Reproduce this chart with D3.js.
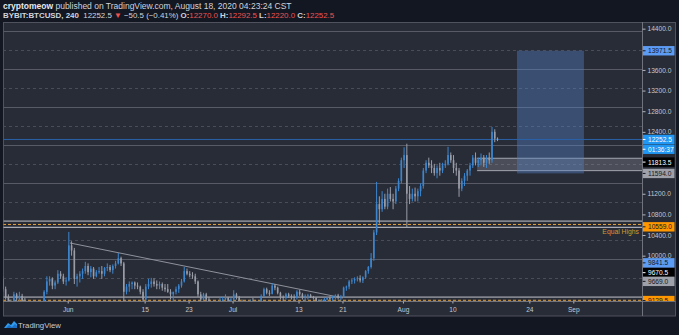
<!DOCTYPE html>
<html><head><meta charset="utf-8">
<script src="https://cdn.jsdelivr.net/npm/d3@7"></script>
<style>body{margin:0;background:#131722;}svg{display:block;font-family:"Liberation Sans",Arial,sans-serif;}</style>
</head><body><svg id="c" width="679" height="335"></svg>
<script>
// ---------- DATA ----------
const candleStartUTC = Date.UTC(2020, 4, 20, 0);   // first 12h candle
const candleStepHours = 12;
const candles = [ // [open, high, low, close]
[9550,9600,9300,9350],[9350,9400,9150,9200],
[9200,9250,8900,9000],[9000,9150,8950,9100],
[9100,9300,9050,9250],[9250,9280,9120,9170],
[9170,9300,9100,9220],[9220,9260,9050,9100],
[9100,9180,8900,8950],[8950,9000,8700,8750],
[8750,8900,8650,8850],[8850,8950,8750,8900],
[8900,9000,8800,8850],[8850,8950,8700,8800],
[8800,9000,8780,8950],[8950,9330,8900,9300],
[9300,9600,9250,9500],[9500,9600,9420,9550],
[9550,9580,9350,9420],[9420,9520,9350,9480],
[9480,9720,9450,9650],[9650,9700,9550,9600],
[9600,9650,9450,9500],[9500,9580,9420,9520],
[9520,10460,9500,10200],[10200,10280,10000,10100],
[10100,10150,9450,9550],[9550,9650,9400,9600],
[9600,9700,9480,9650],[9650,9750,9550,9700],
[9700,9880,9650,9800],[9800,9850,9620,9680],
[9680,9800,9580,9750],[9750,9780,9550,9600],
[9600,9720,9580,9680],[9680,9780,9650,9700],
[9700,9800,9550,9650],[9650,9780,9600,9760],
[9760,9850,9700,9780],[9780,9820,9680,9720],
[9720,9830,9650,9800],[9800,9900,9750,9850],
[9850,10050,9830,9950],[9950,9980,9800,9850],
[9850,9880,9100,9300],[9300,9450,9250,9400],
[9400,9500,9300,9450],[9450,9500,9350,9480],
[9480,9500,9350,9420],[9420,9480,9350,9400],
[9400,9420,9250,9300],[9300,9350,9050,9150],
[9150,9450,8900,9400],[9400,9550,9350,9450],
[9450,9570,9380,9500],[9500,9560,9400,9450],
[9450,9520,9350,9420],[9420,9500,9350,9450],
[9450,9480,9320,9380],[9380,9450,9300,9350],
[9350,9450,9280,9300],[9300,9350,9150,9250],
[9250,9300,9100,9300],[9300,9400,9250,9350],
[9350,9450,9280,9420],[9420,9550,9380,9500],
[9500,9780,9480,9700],[9700,9750,9620,9650],
[9650,9700,9580,9620],[9620,9680,9550,9600],
[9600,9650,9450,9500],[9500,9520,9200,9250],
[9250,9300,9000,9150],[9150,9280,9100,9250],
[9250,9280,9050,9150],[9150,9200,8950,9050],
[9050,9100,8950,9000],[9000,9050,8850,8950],
[8950,9050,8900,9000],[9000,9200,8980,9100],
[9100,9200,9050,9150],[9150,9250,9100,9180],
[9180,9200,9080,9120],[9120,9180,9080,9150],
[9150,9330,9120,9250],[9250,9280,9150,9200],
[9200,9220,9050,9100],[9100,9150,9000,9080],
[9080,9120,9030,9070],[9070,9100,9000,9050],
[9050,9150,9030,9120],[9120,9180,9080,9100],
[9100,9130,9000,9050],[9050,9100,8950,9080],
[9080,9250,9050,9220],[9220,9380,9200,9350],
[9350,9380,9250,9280],[9280,9330,9220,9260],
[9260,9470,9250,9420],[9420,9450,9330,9380],
[9380,9400,9250,9280],[9280,9300,9150,9200],
[9200,9230,9100,9180],[9180,9280,9150,9250],
[9250,9280,9180,9220],[9220,9250,9150,9200],
[9200,9250,9130,9180],[9180,9330,9150,9300],
[9300,9340,9220,9250],[9250,9280,9150,9200],
[9200,9250,9120,9220],[9220,9260,9150,9230],
[9230,9260,9180,9200],[9200,9220,9150,9180],
[9180,9200,9050,9100],[9100,9150,9050,9120],
[9120,9160,9100,9140],[9140,9180,9110,9150],
[9150,9200,9130,9180],[9180,9210,9140,9170],
[9170,9220,9120,9200],[9200,9250,9150,9230],
[9230,9260,9150,9180],[9180,9240,9130,9200],
[9200,9400,9180,9380],[9380,9420,9320,9400],
[9400,9530,9350,9500],[9500,9550,9450,9520],
[9520,9580,9460,9550],[9550,9600,9500,9560],
[9560,9620,9480,9520],[9520,9600,9470,9580],
[9580,9720,9550,9700],[9700,9800,9650,9780],
[9780,10050,9750,9950],[9950,10500,9900,10450],
[10450,11430,10400,11000],[11000,11150,10620,10900],
[10900,11250,10850,11100],[11100,11200,10900,10950],
[10950,11300,10900,11200],[11200,11330,11050,11100],
[11100,11200,10900,11050],[11050,11350,11000,11300],
[11300,11500,11250,11450],[11450,11900,11400,11850],
[11850,12100,11700,11950],[11950,12170,10550,11200],
[11200,11350,11000,11100],[11100,11300,11050,11200],
[11200,11320,11050,11150],[11150,11300,11050,11250],
[11250,11400,11150,11350],[11350,11700,11300,11650],
[11650,11850,11600,11800],[11800,11900,11700,11750],
[11750,11850,11600,11700],[11700,11780,11550,11600],
[11600,11750,11500,11700],[11700,11800,11550,11650],
[11650,11800,11600,11750],[11750,11850,11700,11780],
[11780,12110,11750,11950],[11950,12000,11800,11850],
[11850,11950,11600,11700],[11700,11800,11550,11650],
[11650,11700,11140,11300],[11300,11500,11250,11450],
[11450,11600,11350,11550],[11550,11680,11450,11650],
[11650,11800,11550,11750],[11750,11950,11700,11900],
[11900,12000,11750,11800],[11800,11900,11720,11850],
[11850,11980,11750,11900],[11900,11950,11720,11800],
[11800,11950,11700,11900],[11900,12000,11780,11850],
[11850,12495,11800,12400],[12400,12450,12200,12270],
[12270,12292.5,12220,12252.5]
];
const priceTicks = [14400,13600,13200,12800,12400,11200,10800,10400,10000];
const timeTickDates = ["2020-06-01","2020-06-15","2020-06-23","2020-07-01","2020-07-13","2020-07-21","2020-08-01","2020-08-10","2020-08-24","2020-09-01"];
const timeTickLabels = ["Jun","15","23","Jul","13","21","Aug","10","24","Sep"];
const levelLines = [14355,13987,13619,13251,12882,12514,12146,11777,11409,11041,10672,10304,9936,9567,9199];
const axisLabelValues = [13971.5,12252.5,11813.5,11594.0,10559.0,9841.5,9670.5,9669.0,9129.5];
const countdownText = "01:36:37";
const lastPrice = 12252.5;
const trendFrom = ["2020-06-01T10:00Z", 10246];
const trendTo   = ["2020-07-21T02:00Z", 9180];
const equalHighsZone = [10672, 10605, 10548];   // upper line, dashed mid, lower line
const equalLowsZone  = [9199, 9135];
const grayBox = {from:"2020-08-14T12:00Z", top:11888, bottom:11648};
const blueBox = {from:"2020-08-21T18:00Z", to:"2020-09-02T22:30Z", top:13971.5, bottom:11594};

// ---------- SCALES ----------
const svg = d3.select("#c");
const PL=3, PR=642.5, PT=22, PB=301;
const x = d3.scaleUtc().domain([new Date(Date.UTC(2020,4,20,5,28)), new Date(Date.UTC(2020,8,13,12))]).range([3,642]);
const y = d3.scaleLinear().domain([9100,14500]).range([302.1,23.5]);

// backgrounds
svg.append("rect").attr("width",679).attr("height",335).attr("fill","#131722");
svg.append("rect").attr("x",3.5).attr("y",22.5).attr("width",672).attr("height",293.5)
  .attr("fill","#282c37").attr("stroke","#50535e");
svg.append("defs").append("clipPath").attr("id","pc").append("rect")
  .attr("x",PL+0.5).attr("y",PT+0.5).attr("width",PR-PL-0.5).attr("height",PB-PT-0.5);
const g = svg.append("g").attr("clip-path","url(#pc)");

// level lines
levelLines.forEach((v,i)=>{
  g.append("line").attr("x1",PL).attr("x2",PR).attr("y1",Math.round(y(v))+0.5).attr("y2",Math.round(y(v))+0.5)
   .attr("stroke", i%2===0 ? "#585b66" : "#4a4d58").attr("stroke-dasharray", i%2===0 ? null : "3,3");
});
// gray box
g.append("rect").attr("x",x(new Date(grayBox.from))).attr("y",y(grayBox.top))
  .attr("width",PR-x(new Date(grayBox.from))).attr("height",y(grayBox.bottom)-y(grayBox.top))
  .attr("fill","rgba(150,152,160,0.32)");
[grayBox.top,grayBox.bottom].forEach(v=>g.append("line").attr("x1",x(new Date(grayBox.from))).attr("x2",PR)
  .attr("y1",y(v)).attr("y2",y(v)).attr("stroke","#a3a6af").attr("stroke-width",1));
// blue box
g.append("rect").attr("x",x(new Date(blueBox.from))).attr("y",y(blueBox.top))
  .attr("width",x(new Date(blueBox.to))-x(new Date(blueBox.from))).attr("height",y(blueBox.bottom)-y(blueBox.top))
  .attr("fill","rgba(85,130,200,0.40)");
// equal highs / lows zones
[equalHighsZone[0],equalHighsZone[2],equalLowsZone[0]].forEach(v=>g.append("line").attr("x1",PL).attr("x2",PR)
  .attr("y1",y(v)).attr("y2",y(v)).attr("stroke","#a9acb4").attr("stroke-width",1.2));
[equalHighsZone[1],equalLowsZone[1]].forEach(v=>g.append("line").attr("x1",PL).attr("x2",PR)
  .attr("y1",y(v)).attr("y2",y(v)).attr("stroke","#e8a33a").attr("stroke-width",1).attr("stroke-dasharray","3,2"));
// last price line
g.append("line").attr("x1",PL).attr("x2",PR).attr("y1",y(lastPrice)).attr("y2",y(lastPrice))
  .attr("stroke","#2a62a8").attr("stroke-width",1);
// trendline
g.append("line").attr("x1",x(new Date(trendFrom[0]))).attr("y1",y(trendFrom[1]))
  .attr("x2",x(new Date(trendTo[0]))).attr("y2",y(trendTo[1])).attr("stroke","#8f929b").attr("stroke-width",1);

// candles
const UP="#3d86cf", DN="#9a9da6";
const cg = g.append("g");
candles.forEach((c,i)=>{
  const t = new Date(candleStartUTC + (i*candleStepHours+5)*3600e3);
  const cx = x(t), col = c[3]>=c[0]?UP:DN;
  cg.append("line").attr("x1",cx).attr("x2",cx).attr("y1",y(c[1])).attr("y2",y(c[2])).attr("stroke",col).attr("stroke-width",1);
  const top=y(Math.max(c[0],c[3])), bot=y(Math.min(c[0],c[3]));
  cg.append("rect").attr("x",cx-0.8).attr("y",top).attr("width",1.6).attr("height",Math.max(0.8,bot-top)).attr("fill",col);
});

// separators
svg.append("line").attr("x1",PR).attr("x2",PR).attr("y1",PT).attr("y2",316).attr("stroke","#70737c");
svg.append("line").attr("x1",PL).attr("x2",675.5).attr("y1",PB+0.5).attr("y2",PB+0.5).attr("stroke","#70737c");

// price axis
const ya = svg.append("g").attr("transform",`translate(${PR},0)`)
  .call(d3.axisRight(y).tickValues(priceTicks).tickSize(3).tickPadding(2).tickFormat(d3.format(".1f")));
ya.select(".domain").remove();
ya.selectAll("line").attr("stroke","#b2b5be");
ya.selectAll("text").attr("fill","#c4c7ce").style("font-size","6.6px").style("font-family","Liberation Sans, Arial, sans-serif");

// time axis
const xa = svg.append("g").attr("transform",`translate(0,${PB+0.5})`)
  .call(d3.axisBottom(x).tickValues(timeTickDates.map(d=>new Date(d+"T00:00Z"))).tickSize(2).tickPadding(4)
  .tickFormat((d,i)=>timeTickLabels[i]));
xa.select(".domain").remove();
xa.selectAll("line").attr("stroke","#b2b5be");
xa.selectAll("text").attr("fill","#c4c7ce").style("font-size","6.6px").style("font-family","Liberation Sans, Arial, sans-serif");

// colored axis labels
const labelStyle = [
 {bg:"#5d9cf5",fg:"#131722",dy:0},
 {bg:"#2196f3",fg:"#ffffff",dy:0},
 {bg:"#000000",fg:"#ffffff",dy:0},
 {bg:"#9ea1a9",fg:"#131722",dy:0},
 {bg:"#ff9800",fg:"#131722",dy:0},
 {bg:"#5d9cf5",fg:"#131722",dy:-1},
 {bg:"#000000",fg:"#ffffff",dy:0},
 {bg:"#9ea1a9",fg:"#131722",dy:8.6},
 {bg:"#ff9800",fg:"#131722",dy:0}
];
const lg = svg.append("g");
svg.append("defs").append("clipPath").attr("id","ac").append("rect").attr("x",PR).attr("y",PT).attr("width",40).attr("height",PB-PT);
const lgc = lg.append("g").attr("clip-path","url(#ac)");
function axisLabel(cy, txt, st){
  lgc.append("rect").attr("x",PR+0.5).attr("y",cy-4.7).attr("width",31.5).attr("height",9.4).attr("fill",st.bg);
  lgc.append("line").attr("x1",PR).attr("x2",PR+3).attr("y1",cy).attr("y2",cy).attr("stroke",st.fg);
  lgc.append("text").attr("x",PR+5.5).attr("y",cy+2.4).attr("fill",st.fg).style("font-size","6.6px").text(txt);
}
axisLabelValues.forEach((v,i)=>axisLabel(y(v)+labelStyle[i].dy, d3.format(".1f")(v), labelStyle[i]));
axisLabel(y(lastPrice)+9.8, countdownText, labelStyle[1]);

// Equal Highs text
svg.append("text").attr("x",639).attr("y",y(equalHighsZone[2])+7).attr("text-anchor","end")
  .attr("fill","#d9982e").style("font-size","6.8px").text("Equal Highs");

// header
const h1 = svg.append("text").attr("x",3).attr("y",8.8).style("font-size","8.5px").attr("fill","#d1d4dc");
h1.append("tspan").attr("font-weight","bold").attr("fill","#e6e8ee").text("cryptomeow");
h1.append("tspan").text(" published on TradingView.com, August 18, 2020 04:23:24 CST");
const h2 = svg.append("text").attr("x",3).attr("y",18).style("font-size","7.9px").attr("fill","#d1d4dc");
h2.append("tspan").attr("font-weight","bold").text("BYBIT:BTCUSD, 240");
h2.append("tspan").text("\u00a0 12252.5 ");
h2.append("tspan").attr("fill","#ef5350").text("\u25bc");
h2.append("tspan").text(" \u221250.5 (\u22120.41%) ");
[["O:","12270.0"],["H:","12292.5"],["L:","12220.0"],["C:","12252.5"]].forEach(([k,v],i)=>{
  h2.append("tspan").attr("font-weight","bold").text((i?" ":"")+k);
  h2.append("tspan").attr("fill","#ef5350").text(v);
});

// footer logo
const fg = svg.append("g").attr("transform","translate(4,320)");
fg.append("path").attr("d","M0,8 L4,3 L7,5 L10,1 L13,4 L13,8 Z").attr("fill","#2e9bf0");
fg.append("path").attr("d","M2,8 L5,5 L8,7 L11,4 L13,6 L13,8 Z").attr("fill","#1c6fc4");
svg.append("text").attr("x",18).attr("y",328).style("font-size","7.8px").attr("fill","#c9ccd4").text("TradingView");
</script></body></html>
